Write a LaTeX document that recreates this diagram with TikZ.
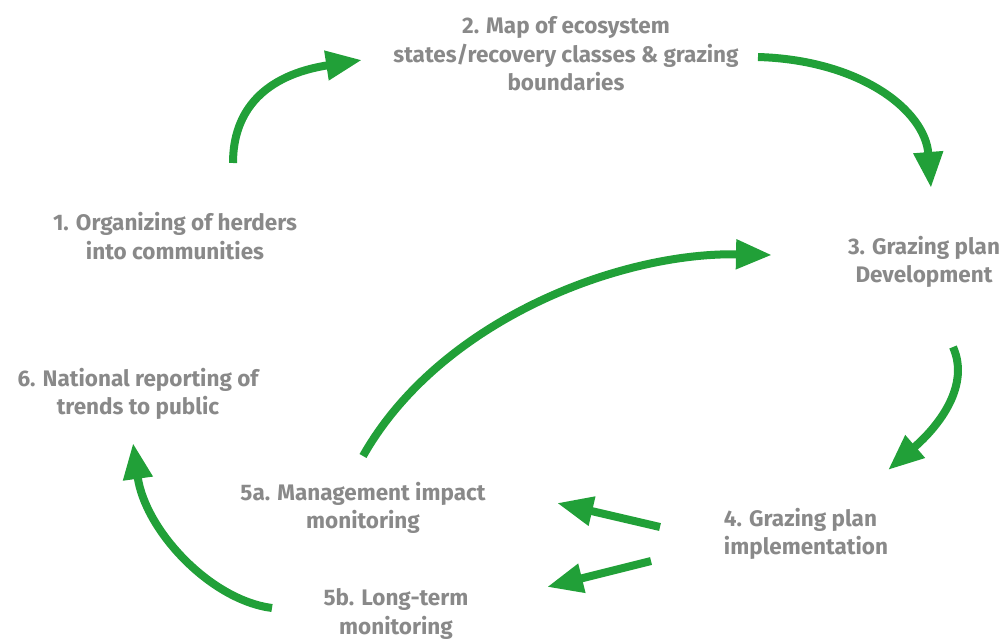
\documentclass[tikz,border=0pt]{standalone}
\usepackage{fontspec}
\setmainfont{Fira Sans}
\usetikzlibrary{arrows.meta}
\definecolor{stepgray}{RGB}{137,137,137}
\definecolor{flowgreen}{RGB}{33,160,56}

\begin{document}
\begin{tikzpicture}[x=1pt, y=-1pt,
    flow/.style={draw=flowgreen, line width=8pt, -{Triangle[length=36pt, width=28pt]}}]
    \useasboundingbox (0,0) rectangle (1007,639);

    \begin{scope}[every node/.style={text=stepgray, font=\fontsize{22.5}{28.5}\selectfont\bfseries, align=center, inner sep=0pt}]
        \node (1) at (175,236) {1. Organizing of herders\\into communities};
        \node (2) at (566,54) {2. Map of ecosystem\\states/recovery classes \& grazing\\boundaries};
        \node (3) at (924,262) {3. Grazing plan\\Development};
        \node[align=left] (4) at (806,534) {4. Grazing plan\\implementation};
        \node (5a) at (363,508) {5a. Management impact\\monitoring};
        \node (5b) at (396,614) {5b. Long-term\\monitoring};
        \node (6) at (138,394) {6. National reporting of\\trends to public};
    \end{scope}

    % arrow ends
    \coordinate (1s) at (233,163);  \coordinate (2e) at (362,60);
    \coordinate (2s) at (758,57);   \coordinate (3e) at (931,188);
    \coordinate (3s) at (953,347);  \coordinate (4e) at (888,470);
    \coordinate (5s) at (363,456);  \coordinate (3w) at (772,255);
    \coordinate (4a) at (660,527);  \coordinate (5ae) at (557,503);
    \coordinate (4b) at (651,561);  \coordinate (5be) at (547,587);
    \coordinate (5bs) at (272,608); \coordinate (6e) at (133,443);

    \path [flow] (1s) .. controls (233,110) and (265,75) .. (2e);
    \path [flow] (2s) .. controls (860,60) and (925,110) .. (3e);
    \path [flow] (3s) .. controls (970,385) and (940,425) .. (4e);
    \path [flow] (5s) .. controls (440,320) and (620,252) .. (3w);
    \path [flow] (4a) -- (5ae);
    \path [flow] (4b) -- (5be);
    \path [flow] (5bs) .. controls (210,600) and (145,530) .. (6e);
\end{tikzpicture}
\end{document}
